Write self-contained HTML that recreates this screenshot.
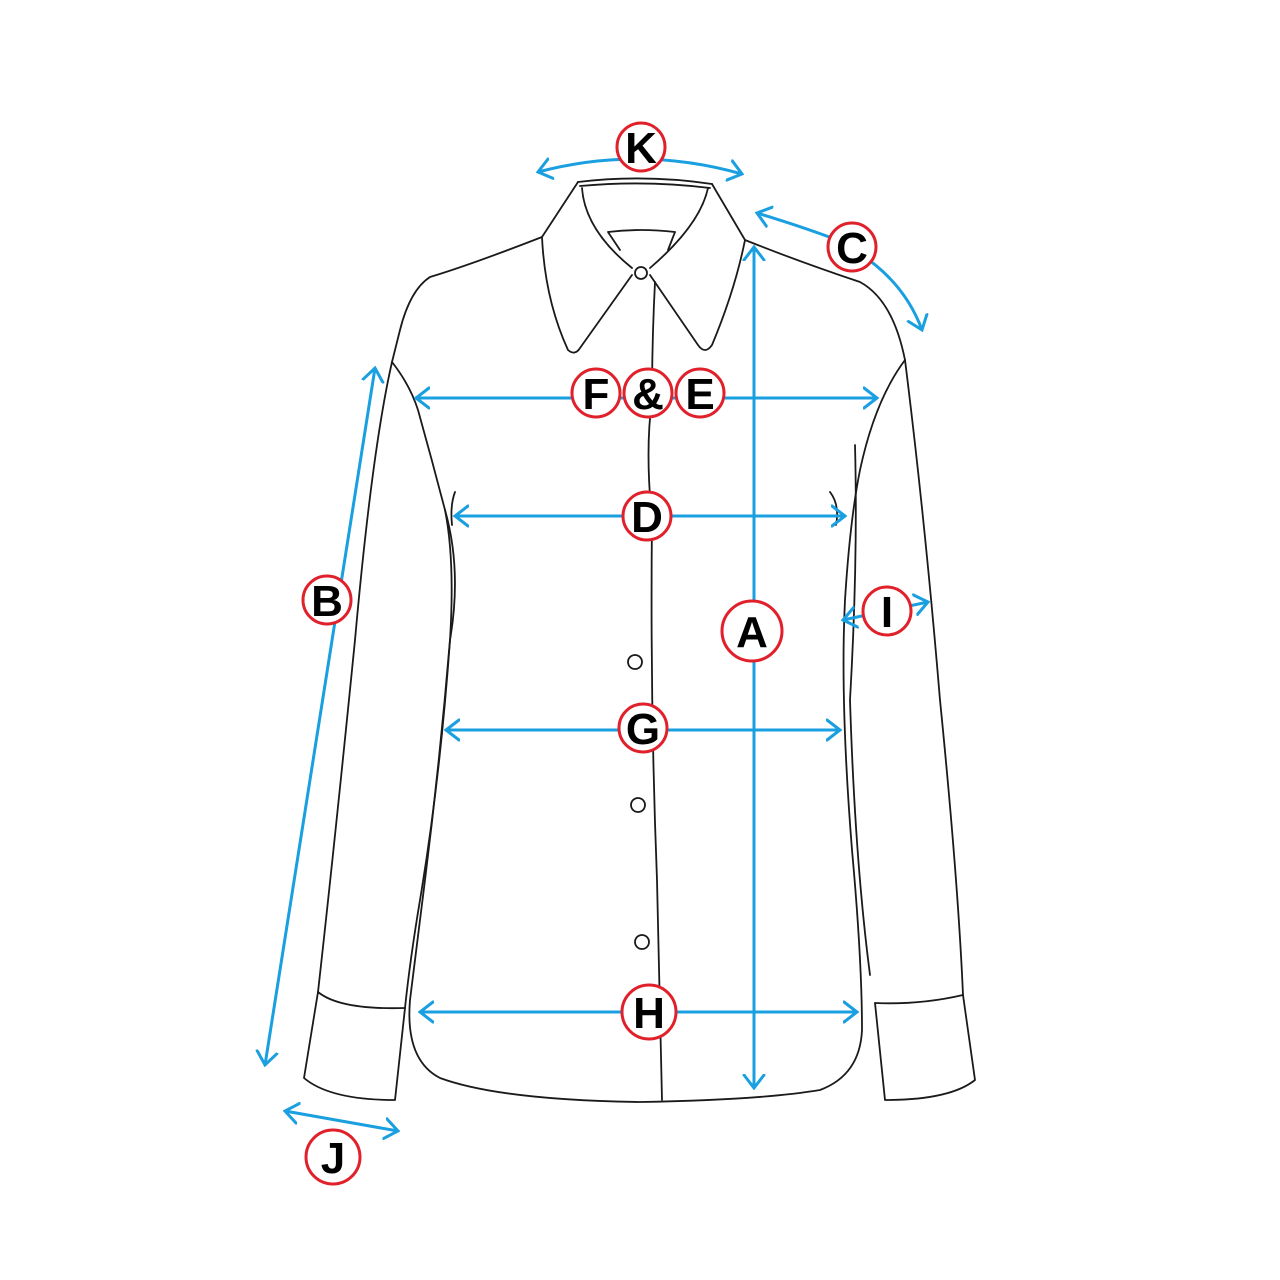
<!DOCTYPE html>
<html><head><style>html,body{margin:0;padding:0;background:#fff}svg{display:block}</style></head><body>
<svg width="1280" height="1280" viewBox="0 0 1280 1280" xmlns="http://www.w3.org/2000/svg">
<defs>
<marker id="ah" viewBox="-14 -12 16 24" markerWidth="16" markerHeight="24" refX="0" refY="0" orient="auto-start-reverse" markerUnits="userSpaceOnUse">
<path d="M-13,-10 L0,0 L-13,10" fill="none" stroke="#1a9fe0" stroke-width="3" stroke-linecap="round"/>
</marker>
</defs>
<g fill="none" stroke="#1a1a1a" stroke-width="1.8" stroke-linejoin="round" stroke-linecap="round">
<path d="M578,182 Q645,174 712,184"/>
<path d="M580,186 Q645,180 710,188"/>
<path d="M582,188 Q585,230 632,268 M708,188 Q700,225 650,268"/>
<path d="M608,232 Q640,228 675,232 M608,232 L620,250 M675,232 L668,250"/>
<path d="M578,182 L542,237 Q545,300 568,350 Q575,356 580,348 L632,275"/>
<path d="M712,184 L745,240 Q735,290 712,345 Q705,355 698,345 L650,275"/>
<circle cx="641" cy="273" r="6"/>
<path d="M655,282 Q652,340 652,400 Q645,450 652,520 Q650,700 657,880 Q660,1000 662,1100"/>
<path d="M542,237 Q470,265 430,277 Q410,290 400,330 L392,362"/>
<path d="M745,240 Q800,262 860,282 Q893,300 905,360"/>
<path d="M392,362 Q410,385 418,410 Q432,460 445,510 Q462,570 450,640 Q440,760 425,880 Q415,960 410,1000 Q405,1060 440,1078 Q500,1100 640,1102 Q760,1100 820,1090 Q860,1075 862,1030 Q862,960 852,850 Q840,700 845,600 Q850,520 860,470 Q875,400 905,360"/>
<path d="M455,492 Q450,505 452,525 M830,492 Q840,505 836,525"/>
<path d="M392,362 Q372,450 355,640 Q335,840 318,992"/>
<path d="M445,510 Q455,560 450,640 Q440,780 420,900 Q410,960 405,1008"/>
<path d="M318,992 Q340,1010 405,1008"/>
<path d="M318,992 L304,1078 Q330,1100 395,1100 L405,1008"/>
<path d="M905,360 Q925,520 940,700 Q958,880 963,995 L975,1080 Q950,1100 885,1100 L875,1003"/>
<path d="M855,445 Q858,560 850,700 Q855,860 870,975"/>
<path d="M875,1003 Q920,1005 963,995"/>
<circle cx="635" cy="662" r="7"/><circle cx="638" cy="805" r="7"/><circle cx="642" cy="942" r="7"/>
</g>
<g fill="none" stroke="#1a9fe0" stroke-width="3" marker-start="url(#ah)" marker-end="url(#ah)">
<path d="M538,172 Q640,145 742,174"/>
<path d="M757,213 Q800,226 832,238 Q900,270 922,330"/>
<line x1="754" y1="247" x2="754" y2="1088"/>
<line x1="416" y1="398" x2="877" y2="398"/>
<line x1="455" y1="516" x2="845" y2="516"/>
<line x1="446" y1="730" x2="840" y2="730"/>
<line x1="420" y1="1012" x2="857" y2="1012"/>
<line x1="375" y1="368" x2="265" y2="1065"/>
<line x1="843" y1="620" x2="928" y2="602"/>
<line x1="285" y1="1111" x2="398" y2="1131"/>
</g>
<g fill="#fff" stroke="#e0202a" stroke-width="3">
<circle cx="641" cy="147" r="24"/><circle cx="852" cy="247" r="24"/>
<circle cx="596" cy="393" r="24"/><circle cx="648" cy="393" r="24"/><circle cx="700" cy="393" r="24"/>
<circle cx="647" cy="516" r="24"/><circle cx="752" cy="631" r="30"/>
<circle cx="327" cy="600" r="24"/><circle cx="887" cy="611" r="24"/>
<circle cx="643" cy="728" r="24"/><circle cx="649" cy="1012" r="27"/>
<circle cx="333" cy="1157" r="27"/>
</g>
<g font-family="Liberation Sans, sans-serif" font-weight="bold" font-size="44" text-anchor="middle" fill="#000">
<text x="641" y="163">K</text><text x="852" y="263">C</text>
<text x="596" y="409">F</text><text x="648" y="409">&amp;</text><text x="700" y="409">E</text>
<text x="647" y="532">D</text><text x="752" y="647">A</text>
<text x="327" y="616">B</text><text x="887" y="627">I</text>
<text x="643" y="744">G</text><text x="649" y="1028">H</text>
<text x="333" y="1173">J</text>
</g>
</svg>
</body></html>
